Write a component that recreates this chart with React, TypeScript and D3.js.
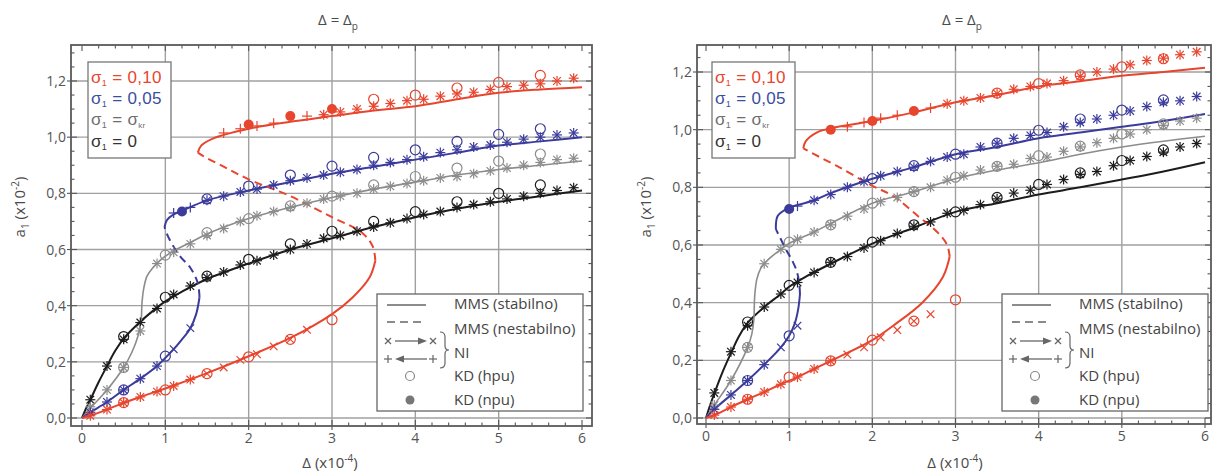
import React from "react";
import * as d3 from "d3";

type P = [number, number];

// ---------------- Axis ticks ----------------
const X_TICKS = [0, 1, 2, 3, 4, 5, 6];
const X_GRID = [1, 2, 3, 4, 5];
const Y_TICKS = [0, 0.2, 0.4, 0.6, 0.8, 1.0, 1.2];
const Y_TICK_LABELS = ["0,0", "0,2", "0,4", "0,6", "0,8", "1,0", "1,2"];

// ---------------- LEFT PANEL DATA ----------------
const L_BLACK_LINE: P[] = [[0,0],[0.05,0.035],[0.1,0.065],[0.2,0.128],[0.3,0.185],[0.4,0.24],[0.5,0.283],[0.7,0.343],[0.9,0.393],[1.0,0.415],[1.2,0.45],[1.5,0.495],[2.0,0.55],[2.5,0.6],[3.0,0.64],[3.5,0.68],[4.0,0.715],[4.5,0.745],[5.0,0.77],[5.5,0.79],[6.0,0.81]];
const L_BLACK_STAR: P[] = [[0.1,0.065],[0.3,0.185],[0.5,0.28],[0.7,0.34],[0.9,0.39],[1.1,0.44],[1.3,0.47],[1.5,0.5],[1.7,0.52],[1.9,0.545],[2.1,0.56],[2.3,0.58],[2.5,0.6],[2.7,0.62],[2.9,0.64],[3.1,0.65],[3.3,0.665],[3.5,0.68],[3.7,0.695],[3.9,0.71],[4.1,0.725],[4.3,0.735],[4.5,0.75],[4.7,0.76],[4.9,0.77],[5.1,0.78],[5.3,0.79],[5.5,0.8],[5.7,0.81],[5.9,0.82]];
const L_BLACK_HPU: P[] = [[0.5,0.29],[1.0,0.43],[1.5,0.505],[2.0,0.565],[2.5,0.62],[3.0,0.665],[3.5,0.7],[4.0,0.735],[4.5,0.77],[5.0,0.8],[5.5,0.83]];

const L_GRAY_LINE: P[] = [[0,0],[0.1,0.035],[0.3,0.1],[0.5,0.18],[0.6,0.235],[0.67,0.29],[0.71,0.35],[0.72,0.41],[0.74,0.46],[0.78,0.505],[0.85,0.535],[0.95,0.565],[1.1,0.595],[1.3,0.625],[1.5,0.655],[2.0,0.71],[2.5,0.75],[3.0,0.785],[3.5,0.815],[4.0,0.84],[4.5,0.865],[5.0,0.885],[5.5,0.9],[6.0,0.915]];
const L_GRAY_STAR: P[] = [[0.1,0.04],[0.3,0.1],[0.5,0.18],[0.7,0.31],[0.9,0.55],[1.1,0.59],[1.3,0.62],[1.5,0.65],[1.7,0.675],[1.9,0.7],[2.1,0.72],[2.3,0.735],[2.5,0.75],[2.7,0.765],[2.9,0.78],[3.1,0.79],[3.3,0.8],[3.5,0.815],[3.7,0.825],[3.9,0.835],[4.1,0.845],[4.3,0.855],[4.5,0.86],[4.7,0.87],[4.9,0.88],[5.1,0.89],[5.3,0.9],[5.5,0.91],[5.7,0.92],[5.9,0.925]];
const L_GRAY_HPU: P[] = [[0.5,0.18],[1.0,0.58],[1.5,0.66],[2.0,0.71],[2.5,0.755],[3.0,0.79],[3.5,0.83],[4.0,0.86],[4.5,0.89],[5.0,0.915],[5.5,0.94]];

const L_BLUE_LOW: P[] = [[0,0],[0.1,0.02],[0.3,0.057],[0.5,0.1],[0.7,0.14],[0.9,0.185],[1.1,0.245],[1.2,0.28],[1.3,0.32],[1.37,0.37],[1.41,0.43]];
const L_BLUE_UNST: P[] = [[1.41,0.43],[1.39,0.48],[1.3,0.535],[1.18,0.575],[1.08,0.62],[1.02,0.655],[0.99,0.68]];
const L_BLUE_UP: P[] = [[0.99,0.68],[1.02,0.705],[1.1,0.725],[1.2,0.738],[1.5,0.775],[2.0,0.81],[2.5,0.84],[3.0,0.87],[3.5,0.895],[4.0,0.92],[4.5,0.945],[5.0,0.97],[5.5,0.985],[6.0,1.0]];
const L_BLUE_STAR: P[] = [[0.1,0.02],[0.3,0.057],[0.5,0.1],[0.7,0.14],[0.9,0.185],[1.5,0.775],[1.7,0.79],[1.9,0.805],[2.1,0.815],[2.3,0.83],[2.5,0.845],[2.7,0.855],[2.9,0.865],[3.1,0.875],[3.3,0.885],[3.5,0.9],[3.7,0.91],[3.9,0.92],[4.1,0.93],[4.3,0.945],[4.5,0.955],[4.7,0.965],[4.9,0.972],[5.1,0.982],[5.3,0.993],[5.5,1.0],[5.7,1.008],[5.9,1.015]];
const L_BLUE_CROSS: P[] = [[1.1,0.245],[1.3,0.32]];
const L_BLUE_PLUS: P[] = [[1.1,0.73],[1.3,0.75]];
const L_BLUE_HPU: P[] = [[0.5,0.1],[1.0,0.22],[1.5,0.78],[2.0,0.826],[2.5,0.865],[3.0,0.897],[3.5,0.928],[4.0,0.955],[4.5,0.985],[5.0,1.01],[5.5,1.03]];
const L_BLUE_NPU: P[] = [[1.2,0.735]];

const L_RED_LOW: P[] = [[0,0],[0.1,0.008],[0.3,0.03],[0.5,0.054],[0.7,0.075],[1.0,0.105],[1.5,0.16],[2.0,0.22],[2.5,0.285],[3.0,0.37],[3.25,0.43],[3.45,0.5],[3.52,0.56]];
const L_RED_UNST: P[] = [[3.52,0.56],[3.49,0.61],[3.36,0.66],[3.0,0.715],[2.5,0.79],[2.0,0.85],[1.7,0.895],[1.47,0.93],[1.39,0.945]];
const L_RED_UP: P[] = [[1.39,0.945],[1.43,0.97],[1.57,0.995],[2.0,1.03],[2.5,1.055],[3.0,1.075],[3.5,1.095],[4.0,1.11],[4.5,1.135],[5.0,1.158],[5.5,1.17],[6.0,1.178]];
const L_RED_STAR: P[] = [[0.1,0.008],[0.3,0.03],[0.5,0.054],[0.7,0.075],[0.9,0.094],[1.1,0.114],[1.3,0.137],[2.9,1.08],[3.1,1.09],[3.3,1.1],[3.5,1.11],[3.7,1.12],[3.9,1.13],[4.1,1.135],[4.3,1.146],[4.5,1.154],[4.7,1.16],[4.9,1.17],[5.1,1.18],[5.3,1.185],[5.5,1.19],[5.7,1.2],[5.9,1.21]];
const L_RED_CROSS: P[] = [[1.5,0.158],[1.7,0.18],[1.9,0.207],[2.1,0.227],[2.3,0.255],[2.5,0.28],[2.7,0.314]];
const L_RED_PLUS: P[] = [[1.7,1.015],[1.9,1.03],[2.1,1.04],[2.3,1.05],[2.7,1.075]];
const L_RED_HPU: P[] = [[0.5,0.055],[1.0,0.1],[1.5,0.158],[2.0,0.218],[2.5,0.28],[3.0,0.35],[3.5,1.135],[4.0,1.15],[4.5,1.175],[5.0,1.195],[5.5,1.22]];
const L_RED_NPU: P[] = [[2.0,1.045],[2.5,1.075],[3.0,1.1]];

// ---------------- RIGHT PANEL DATA ----------------
const R_BLACK_LINE: P[] = [[0,0],[0.05,0.045],[0.1,0.085],[0.2,0.16],[0.3,0.225],[0.4,0.285],[0.5,0.33],[0.7,0.385],[0.9,0.43],[1.0,0.455],[1.2,0.49],[1.5,0.535],[2.0,0.605],[2.5,0.66],[3.0,0.715],[3.5,0.745],[4.0,0.775],[4.5,0.8],[5.0,0.827],[5.5,0.855],[6.0,0.887]];
const R_BLACK_STAR: P[] = [[0.1,0.087],[0.3,0.23],[0.5,0.32],[0.7,0.385],[0.9,0.43],[1.1,0.47],[1.3,0.505],[1.5,0.54],[1.7,0.56],[1.9,0.59],[2.1,0.615],[2.3,0.64],[2.5,0.665],[2.7,0.68],[2.9,0.71],[3.1,0.72],[3.3,0.74],[3.5,0.76],[3.7,0.78],[3.9,0.79],[4.1,0.81],[4.3,0.827],[4.5,0.845],[4.7,0.855],[4.9,0.875],[5.1,0.893],[5.3,0.907],[5.5,0.922],[5.7,0.94],[5.9,0.952]];
const R_BLACK_HPU: P[] = [[0.5,0.333],[1.0,0.46],[1.5,0.54],[2.0,0.61],[2.5,0.67],[3.0,0.715],[3.5,0.765],[4.0,0.81],[4.5,0.85],[5.0,0.893],[5.5,0.93]];

const R_GRAY_LINE: P[] = [[0,0],[0.1,0.045],[0.3,0.13],[0.5,0.245],[0.55,0.29],[0.575,0.34],[0.585,0.42],[0.61,0.48],[0.66,0.52],[0.75,0.55],[0.9,0.585],[1.0,0.605],[1.3,0.645],[1.5,0.675],[2.0,0.745],[2.5,0.785],[3.0,0.83],[3.5,0.86],[4.0,0.885],[4.5,0.915],[5.0,0.94],[5.5,0.96],[6.0,0.977]];
const R_GRAY_STAR: P[] = [[0.1,0.045],[0.3,0.13],[0.5,0.245],[0.7,0.535],[0.9,0.585],[1.1,0.62],[1.3,0.645],[1.5,0.67],[1.7,0.7],[1.9,0.725],[2.1,0.75],[2.3,0.765],[2.5,0.785],[2.7,0.8],[2.9,0.825],[3.1,0.84],[3.3,0.86],[3.5,0.873],[3.7,0.88],[3.9,0.9],[4.1,0.905],[4.3,0.925],[4.5,0.94],[4.7,0.955],[4.9,0.97],[5.1,0.985],[5.3,1.0],[5.5,1.015],[5.7,1.03],[5.9,1.04]];
const R_GRAY_HPU: P[] = [[0.5,0.245],[1.0,0.61],[1.5,0.67],[2.0,0.745],[2.5,0.785],[3.0,0.835],[3.5,0.873],[4.0,0.91],[4.5,0.943],[5.0,0.985],[5.5,1.02]];

const R_BLUE_LOW: P[] = [[0,0],[0.1,0.03],[0.3,0.08],[0.5,0.13],[0.7,0.185],[0.9,0.245],[1.0,0.285],[1.07,0.33],[1.11,0.38],[1.13,0.43]];
const R_BLUE_UNST: P[] = [[1.13,0.43],[1.12,0.47],[1.09,0.51],[1.03,0.55],[0.97,0.58],[0.9,0.62],[0.84,0.655]];
const R_BLUE_UP: P[] = [[0.84,0.655],[0.86,0.7],[0.95,0.722],[1.0,0.73],[1.3,0.755],[1.5,0.78],[2.0,0.83],[2.5,0.87],[3.0,0.915],[3.5,0.94],[4.0,0.97],[4.5,0.99],[5.0,1.01],[5.5,1.03],[6.0,1.054]];
const R_BLUE_STAR: P[] = [[0.1,0.03],[0.3,0.08],[0.5,0.13],[0.7,0.185],[1.3,0.755],[1.5,0.775],[1.7,0.8],[1.9,0.82],[2.1,0.84],[2.3,0.855],[2.5,0.87],[2.7,0.89],[2.9,0.905],[3.1,0.915],[3.3,0.94],[3.5,0.953],[3.7,0.97],[3.9,0.98],[4.1,0.99],[4.3,1.01],[4.5,1.025],[4.7,1.037],[4.9,1.05],[5.1,1.065],[5.3,1.08],[5.5,1.095],[5.7,1.1],[5.9,1.115]];
const R_BLUE_CROSS: P[] = [[0.9,0.245],[1.1,0.32]];
const R_BLUE_PLUS: P[] = [[1.1,0.735]];
const R_BLUE_HPU: P[] = [[0.5,0.13],[1.0,0.285],[2.0,0.83],[2.5,0.875],[3.0,0.915],[3.5,0.953],[4.0,0.998],[4.5,1.037],[5.0,1.068],[5.5,1.103]];
const R_BLUE_NPU: P[] = [[1.0,0.725]];

const R_RED_LOW: P[] = [[0,0],[0.1,0.01],[0.3,0.038],[0.5,0.065],[0.7,0.09],[0.9,0.117],[1.1,0.142],[1.3,0.17],[1.5,0.198],[2.0,0.27],[2.25,0.32],[2.6,0.4],[2.85,0.49],[2.93,0.56]];
const R_RED_UNST: P[] = [[2.93,0.56],[2.9,0.6],[2.78,0.645],[2.55,0.7],[2.25,0.77],[2.0,0.805],[1.6,0.87],[1.3,0.915],[1.17,0.935]];
const R_RED_UP: P[] = [[1.17,0.935],[1.2,0.96],[1.33,0.99],[1.5,1.005],[2.0,1.03],[2.5,1.06],[3.0,1.095],[3.5,1.12],[4.0,1.15],[4.5,1.168],[5.0,1.187],[5.5,1.2],[6.0,1.215]];
const R_RED_STAR: P[] = [[0.1,0.01],[0.3,0.038],[0.5,0.065],[0.7,0.09],[0.9,0.117],[1.1,0.142],[1.3,0.17],[1.5,0.198],[2.9,1.09],[3.1,1.1],[3.3,1.11],[3.5,1.125],[3.7,1.14],[3.9,1.15],[4.1,1.16],[4.3,1.17],[4.5,1.185],[4.7,1.2],[4.9,1.21],[5.1,1.225],[5.3,1.24],[5.5,1.248],[5.7,1.26],[5.9,1.27]];
const R_RED_CROSS: P[] = [[1.7,0.22],[1.9,0.245],[2.1,0.28],[2.3,0.305],[2.5,0.336],[2.7,0.36]];
const R_RED_PLUS: P[] = [[1.7,1.01],[1.9,1.025],[2.1,1.04],[2.3,1.05],[2.7,1.075]];
const R_RED_HPU: P[] = [[0.5,0.065],[1.0,0.142],[1.5,0.198],[2.0,0.27],[2.5,0.336],[3.0,0.41],[3.5,1.127],[4.0,1.16],[4.5,1.19],[5.0,1.218],[5.5,1.246]];
const R_RED_NPU: P[] = [[1.5,1.0],[2.0,1.03],[2.5,1.065]];

// ---------------- Styling ----------------
const RED = "#e8452e";
const BLUE = "#3b3b9c";
const GRAY = "#8c8c8c";
const BLACK = "#1c1c1c";
const FONT = "'Open Sans', 'Noto Sans', sans-serif";
const LEG_FONT = "'Liberation Sans', Arial, sans-serif";
const TXT = "#4a4a4a";

interface Series {
  color: string;
  solid: P[][];
  dashed: P[][];
  star: P[];
  cross: P[];
  plus: P[];
  hpu: P[];
  npu: P[];
}

const LEFT_SERIES: Series[] = [
  { color: BLACK, solid: [L_BLACK_LINE], dashed: [], star: L_BLACK_STAR, cross: [], plus: [], hpu: L_BLACK_HPU, npu: [] },
  { color: GRAY, solid: [L_GRAY_LINE], dashed: [], star: L_GRAY_STAR, cross: [], plus: [], hpu: L_GRAY_HPU, npu: [] },
  { color: BLUE, solid: [L_BLUE_LOW, L_BLUE_UP], dashed: [L_BLUE_UNST], star: L_BLUE_STAR, cross: L_BLUE_CROSS, plus: L_BLUE_PLUS, hpu: L_BLUE_HPU, npu: L_BLUE_NPU },
  { color: RED, solid: [L_RED_LOW, L_RED_UP], dashed: [L_RED_UNST], star: L_RED_STAR, cross: L_RED_CROSS, plus: L_RED_PLUS, hpu: L_RED_HPU, npu: L_RED_NPU },
];
const RIGHT_SERIES: Series[] = [
  { color: BLACK, solid: [R_BLACK_LINE], dashed: [], star: R_BLACK_STAR, cross: [], plus: [], hpu: R_BLACK_HPU, npu: [] },
  { color: GRAY, solid: [R_GRAY_LINE], dashed: [], star: R_GRAY_STAR, cross: [], plus: [], hpu: R_GRAY_HPU, npu: [] },
  { color: BLUE, solid: [R_BLUE_LOW, R_BLUE_UP], dashed: [R_BLUE_UNST], star: R_BLUE_STAR, cross: R_BLUE_CROSS, plus: R_BLUE_PLUS, hpu: R_BLUE_HPU, npu: R_BLUE_NPU },
  { color: RED, solid: [R_RED_LOW, R_RED_UP], dashed: [R_RED_UNST], star: R_RED_STAR, cross: R_RED_CROSS, plus: R_RED_PLUS, hpu: R_RED_HPU, npu: R_RED_NPU },
];

interface Layout {
  id: string;
  frame: [number, number, number, number];
  xr: [number, number];
  yr: [number, number];
  title: [number, number];
  xlab: [number, number];
  ylab: [number, number];
  sigBox: [number, number];
  kdBox: [number, number];
}

const LEFT: Layout = { id: "L", frame: [71, 592, 45, 426], xr: [82, 582], yr: [418, 81], title: [338, 25], xlab: [330, 468], ylab: [25, 207], sigBox: [88, 62], kdBox: [377, 294] };
const RIGHT: Layout = { id: "R", frame: [697, 1211, 45, 424], xr: [706, 1205], yr: [418, 72], title: [962, 25], xlab: [955, 468], ylab: [651, 207], sigBox: [712, 62], kdBox: [1002, 294] };

function Cross({ x, y, c, s = 3.8 }: { x: number; y: number; c: string; s?: number }) {
  return (
    <g stroke={c} strokeWidth={1.2}>
      <line x1={x - s} y1={y - s} x2={x + s} y2={y + s} />
      <line x1={x - s} y1={y + s} x2={x + s} y2={y - s} />
    </g>
  );
}
function Plus({ x, y, c, s = 5 }: { x: number; y: number; c: string; s?: number }) {
  return (
    <g stroke={c} strokeWidth={1.2}>
      <line x1={x - s} y1={y} x2={x + s} y2={y} />
      <line x1={x} y1={y - s} x2={x} y2={y + s} />
    </g>
  );
}

function Panel({ L, series }: { L: Layout; series: Series[] }) {
  const [fx0, fx1, fy0, fy1] = L.frame;
  const x = d3.scaleLinear().domain([0, 6]).range(L.xr);
  const y = d3.scaleLinear().domain([0, 1.2]).range(L.yr);
  const line = d3
    .line<P>()
    .x((d) => x(d[0]))
    .y((d) => y(d[1]))
    .curve(d3.curveCatmullRom.alpha(0.5));

  const xMinor = d3.range(0, 6.001, 0.2).filter((v) => Math.abs(v - Math.round(v)) > 1e-6);
  const yMinor = d3.range(0, 1.3001, 0.05).filter((v) => y(v) > fy0 + 2 && Math.abs(v / 0.2 - Math.round(v / 0.2)) > 1e-6);
  const clip = `clip-${L.id}`;
  const [sx, sy] = L.sigBox;
  const [kx, ky] = L.kdBox;
  const lg = "#666";

  return (
    <g fontFamily={FONT}>
      <defs>
        <clipPath id={clip}>
          <rect x={fx0} y={fy0} width={fx1 - fx0} height={fy1 - fy0} />
        </clipPath>
      </defs>
      {/* grid */}
      <g stroke="#a0a0a0" strokeWidth={1.4}>
        {X_GRID.map((v) => (
          <line key={"gx" + v} x1={x(v)} x2={x(v)} y1={fy0} y2={fy1} />
        ))}
        {Y_TICKS.map((v) => (
          <line key={"gy" + v} x1={fx0} x2={fx1} y1={y(v)} y2={y(v)} />
        ))}
      </g>
      {/* ticks */}
      <g stroke="#555" strokeWidth={1.1}>
        {X_TICKS.map((v) => (
          <g key={"xt" + v}>
            <line x1={x(v)} x2={x(v)} y1={fy1} y2={fy1 - 6} />
            <line x1={x(v)} x2={x(v)} y1={fy1} y2={fy1 + 4} />
            <line x1={x(v)} x2={x(v)} y1={fy0} y2={fy0 + 6} />
          </g>
        ))}
        {xMinor.map((v) => (
          <g key={"xm" + v}>
            <line x1={x(v)} x2={x(v)} y1={fy1} y2={fy1 - 3.5} />
            <line x1={x(v)} x2={x(v)} y1={fy0} y2={fy0 + 3.5} />
          </g>
        ))}
        {Y_TICKS.map((v) => (
          <g key={"yt" + v}>
            <line x1={fx0} x2={fx0 + 6} y1={y(v)} y2={y(v)} />
            <line x1={fx0} x2={fx0 - 4} y1={y(v)} y2={y(v)} />
            <line x1={fx1} x2={fx1 - 6} y1={y(v)} y2={y(v)} />
          </g>
        ))}
        {yMinor.map((v) => (
          <g key={"ym" + v}>
            <line x1={fx0} x2={fx0 + 3.5} y1={y(v)} y2={y(v)} />
            <line x1={fx1} x2={fx1 - 3.5} y1={y(v)} y2={y(v)} />
          </g>
        ))}
      </g>
      {/* frame */}
      <rect x={fx0} y={fy0} width={fx1 - fx0} height={fy1 - fy0} fill="none" stroke="#5a5a5a" strokeWidth={1.8} />

      {/* curves */}
      <g clipPath={`url(#${clip})`} fill="none">
        {series.map((s, i) => (
          <g key={"c" + i}>
            {s.solid.map((seg, j) => (
              <path key={"s" + j} d={line(seg) || ""} stroke={s.color} strokeWidth={s.color === GRAY ? 1.6 : 2} />
            ))}
            {s.dashed.map((seg, j) => (
              <path key={"d" + j} d={line(seg) || ""} stroke={s.color} strokeWidth={2} strokeDasharray="8,5" />
            ))}
          </g>
        ))}
      </g>
      {/* markers */}
      <g>
        {series.map((s, i) => (
          <g key={"m" + i}>
            {s.hpu.map((d, j) => (
              <circle key={"h" + j} cx={x(d[0])} cy={y(d[1])} r={5} fill="none" stroke={s.color} strokeWidth={1.2} />
            ))}
            {s.star.map((d, j) => (
              <g key={"st" + j}>
                <Cross x={x(d[0])} y={y(d[1])} c={s.color} />
                <Plus x={x(d[0])} y={y(d[1])} c={s.color} />
              </g>
            ))}
            {s.cross.map((d, j) => (
              <Cross key={"cr" + j} x={x(d[0])} y={y(d[1])} c={s.color} />
            ))}
            {s.plus.map((d, j) => (
              <Plus key={"pl" + j} x={x(d[0])} y={y(d[1])} c={s.color} />
            ))}
            {s.npu.map((d, j) => (
              <circle key={"n" + j} cx={x(d[0])} cy={y(d[1])} r={5} fill={s.color} />
            ))}
          </g>
        ))}
      </g>

      {/* tick labels */}
      <g fontSize={14} fill="#555">
        {X_TICKS.map((v) => (
          <text key={"xl" + v} x={x(v)} y={fy1 + 17} textAnchor="middle">
            {String(v)}
          </text>
        ))}
        {Y_TICKS.map((v, i) => (
          <text key={"yl" + v} x={fx0 - 5} y={y(v) + 5} textAnchor="end">
            {Y_TICK_LABELS[i]}
          </text>
        ))}
      </g>

      {/* titles */}
      <text x={L.title[0]} y={L.title[1]} textAnchor="middle" fontSize={15} fill={TXT}>
        Δ = Δ<tspan dy={5} fontSize={10}>p</tspan>
      </text>
      <text x={L.xlab[0]} y={L.xlab[1]} textAnchor="middle" fontSize={15} fill={TXT}>
        Δ (x10<tspan dy={-6} fontSize={10}>-4</tspan>
        <tspan dy={6}>)</tspan>
      </text>
      <text transform={`translate(${L.ylab[0]},${L.ylab[1]}) rotate(-90)`} textAnchor="middle" fontSize={15} fill={TXT}>
        a<tspan dy={4} fontSize={10}>1</tspan>
        <tspan dy={-4}> (x10</tspan>
        <tspan dy={-6} fontSize={10}>-2</tspan>
        <tspan dy={6}>)</tspan>
      </text>

      {/* sigma legend */}
      <rect x={sx} y={sy} width={83} height={96} fill="#fff" stroke="#777" strokeWidth={1.3} />
      <g fontSize={17} fontFamily={LEG_FONT} letterSpacing={0.3}>
        <text x={sx + 3} y={sy + 20.5} fill={RED}>
          σ<tspan dy={3} fontSize={9}>1</tspan>
          <tspan dy={-3}> = 0,10</tspan>
        </text>
        <text x={sx + 3} y={sy + 41.5} fill="#3a4ea0">
          σ<tspan dy={3} fontSize={9}>1</tspan>
          <tspan dy={-3}> = 0,05</tspan>
        </text>
        <text x={sx + 3} y={sy + 63} fill="#6e6e6e">
          σ<tspan dy={3} fontSize={9}>1</tspan>
          <tspan dy={-3}> = σ</tspan>
          <tspan dy={3} fontSize={8}>kr</tspan>
        </text>
        <text x={sx + 3} y={sy + 85} fill="#333">
          σ<tspan dy={3} fontSize={9}>1</tspan>
          <tspan dy={-3}> = 0</tspan>
        </text>
      </g>

      {/* method legend */}
      <rect x={kx} y={ky} width={206} height={117} fill="#fff" stroke="#666" strokeWidth={1.3} />
      <g stroke={lg} strokeWidth={1.6} fill="none">
        <line x1={kx + 10} x2={kx + 49} y1={ky + 11} y2={ky + 11} />
        <line x1={kx + 10} x2={kx + 49} y1={ky + 28} y2={ky + 28} strokeDasharray="8,5" />
      </g>
      <Cross x={kx + 11} y={ky + 47} c={lg} s={3} />
      <line x1={kx + 18} x2={kx + 44} y1={ky + 47} y2={ky + 47} stroke={lg} strokeWidth={1.3} />
      <path d={`M${kx + 50},${ky + 47} L${kx + 41},${ky + 43.5} L${kx + 41},${ky + 50.5} Z`} fill={lg} />
      <Cross x={kx + 56} y={ky + 47} c={lg} s={3} />
      <Plus x={kx + 11} y={ky + 65} c={lg} s={4} />
      <line x1={kx + 24} x2={kx + 50} y1={ky + 65} y2={ky + 65} stroke={lg} strokeWidth={1.3} />
      <path d={`M${kx + 18},${ky + 65} L${kx + 27},${ky + 61.5} L${kx + 27},${ky + 68.5} Z`} fill={lg} />
      <Plus x={kx + 56} y={ky + 65} c={lg} s={4} />
      <path
        d={`M${kx + 63},${ky + 38} Q${kx + 68},${ky + 38} ${kx + 68},${ky + 43} L${kx + 68},${ky + 52} Q${kx + 68},${ky + 56} ${kx + 72},${ky + 56} Q${kx + 68},${ky + 56} ${kx + 68},${ky + 60} L${kx + 68},${ky + 69} Q${kx + 68},${ky + 74} ${kx + 63},${ky + 74}`}
        fill="none"
        stroke={lg}
        strokeWidth={1.2}
      />
      <circle cx={kx + 33} cy={ky + 82} r={4.5} fill="none" stroke="#888" strokeWidth={1.2} />
      <circle cx={kx + 33} cy={ky + 106} r={4.5} fill="#777" />
      <g fontSize={15} fill="#444">
        <text x={kx + 77} y={ky + 15}>MMS (stabilno)</text>
        <text x={kx + 77} y={ky + 40}>MMS (nestabilno)</text>
        <text x={kx + 77} y={ky + 64}>NI</text>
        <text x={kx + 77} y={ky + 87}>KD (hpu)</text>
        <text x={kx + 77} y={ky + 111}>KD (npu)</text>
      </g>
    </g>
  );
}

export default function App() {
  return (
    <svg width={1213} height={473} style={{ position: "absolute", left: 0, top: 0, background: "#fff" }}>
      <rect x={0} y={0} width={1213} height={473} fill="#fff" />
      <Panel L={LEFT} series={LEFT_SERIES} />
      <Panel L={RIGHT} series={RIGHT_SERIES} />
    </svg>
  );
}
